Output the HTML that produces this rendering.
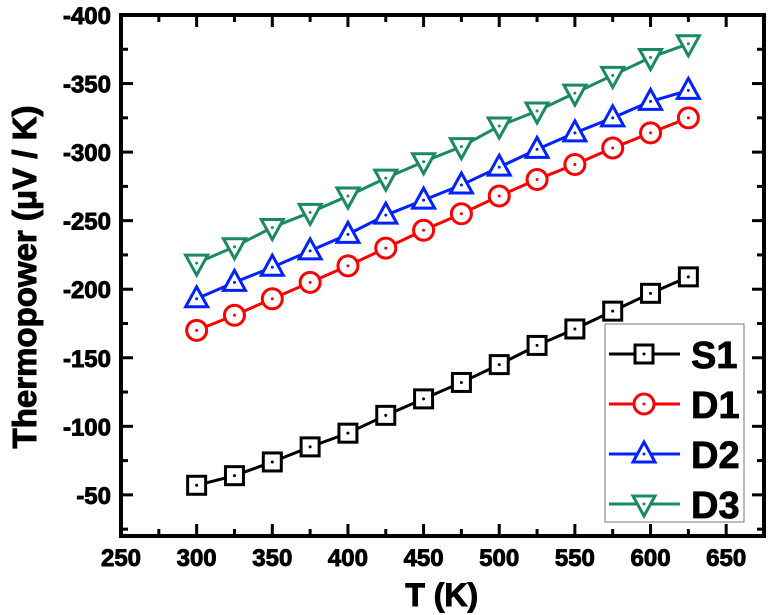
<!DOCTYPE html>
<html><head><meta charset="utf-8"><style>
body{margin:0;background:#fff}
svg{display:block;font-family:"Liberation Sans",sans-serif;font-weight:bold}
</style></head><body>
<svg id="chart" width="768" height="615" viewBox="0 0 768 615" xmlns="http://www.w3.org/2000/svg"></svg>
<script>
const temps=[300,325,350,375,400,425,450,475,500,525,550,575,600,625];
const s1=[-57,-64,-74,-85,-95,-108,-120,-132,-145,-159,-171,-184,-197,-209];
const d1=[-170,-181,-193,-205,-217,-230,-243,-255,-268,-280,-291,-303,-314,-325];
const d2=[-193,-205,-216,-228,-240,-254,-265,-276,-289,-302,-314,-325,-337,-345];
const d3=[-219,-231,-245,-256,-268,-281,-293,-304,-319,-330,-343,-356,-369,-379];
const xTicks=[250,300,350,400,450,500,550,600,650];
const yTicks=[-50,-100,-150,-200,-250,-300,-350,-400];
const seriesNames=["S1","D1","D2","D3"];

const NS="http://www.w3.org/2000/svg";
const svg=document.getElementById('chart');
const L=121,R=764,T=15,B=536;
const xMin=250,xMax=675,yMin=-20,yMax=-400;
const xs=v=>L+(v-xMin)/(xMax-xMin)*(R-L);
const ys=v=>B+(v-yMin)/(yMax-yMin)*(T-B);
function mk(tag,attrs,parent){const e=document.createElementNS(NS,tag);for(const k in attrs)e.setAttribute(k,attrs[k]);(parent||svg).appendChild(e);return e;}

const frame=mk('rect',{x:L,y:T,width:R-L,height:B-T,fill:'none',stroke:'#000','stroke-width':4});



for(let v=250;v<=675;v+=25){
  const major=(v%50===0);const len=major?12:7;
  mk('line',{x1:xs(v),x2:xs(v),y1:B,y2:B-len,stroke:'#000','stroke-width':3});
  mk('line',{x1:xs(v),x2:xs(v),y1:T,y2:T+len,stroke:'#000','stroke-width':3});
}
xTicks.forEach(v=>{
  const t=mk('text',{x:xs(v),y:566,'text-anchor':'middle','font-size':24,stroke:'#000','stroke-width':0.9});
  t.textContent=v;
  
  
});
for(let v=-25;v>=-400;v-=25){
  const major=(v%50===0);const len=major?12:7;
  mk('line',{x1:L,x2:L+len,y1:ys(v),y2:ys(v),stroke:'#000','stroke-width':3});
  mk('line',{x1:R,x2:R-len,y1:ys(v),y2:ys(v),stroke:'#000','stroke-width':3});
}
yTicks.forEach(v=>{
  const t=mk('text',{x:111,y:ys(v)+9,'text-anchor':'end','font-size':24,stroke:'#000','stroke-width':0.9});
  t.textContent=v;
  
  
});
const xt=mk('text',{x:xs(462),y:606,'text-anchor':'middle','font-size':32,stroke:'#000','stroke-width':1});
xt.textContent='T (K)';


const yt=mk('text',{x:0,y:0,'text-anchor':'middle','font-size':33,stroke:'#000','stroke-width':1,transform:'translate(36,277) rotate(-90)'});
yt.textContent='Thermopower (μV / K)';



function marker(type,cx,cy,color,g){
  const sw=3;
  if(type==='sq') mk('rect',{x:cx-9,y:cy-9,width:18,height:18,fill:'#fff',stroke:color,'stroke-width':sw},g);
  else if(type==='ci') mk('circle',{cx:cx,cy:cy,r:10,fill:'#fff',stroke:color,'stroke-width':sw},g);
  else if(type==='up') mk('polygon',{points:`${cx},${cy-12} ${cx-11},${cy+8} ${cx+11},${cy+8}`,fill:'#fff',stroke:color,'stroke-width':sw},g);
  else mk('polygon',{points:`${cx},${cy+12} ${cx-11},${cy-8} ${cx+11},${cy-8}`,fill:'#fff',stroke:color,'stroke-width':sw},g);
  mk('circle',{cx:cx,cy:cy,r:1.5,fill:color},g);
}
const allSeries=[[s1,'#000','sq'],[d1,'#ff0000','ci'],[d2,'#0022ff','up'],[d3,'#1a8a64','dn']];
allSeries.forEach((s,i)=>{
  const g=mk('g',{});
  
  
  const pts=temps.map((t,j)=>xs(t)+','+ys(s[0][j])).join(' ');
  mk('polyline',{points:pts,fill:'none',stroke:s[1],'stroke-width':3},g);
  temps.forEach((t,j)=>marker(s[2],xs(t),ys(s[0][j]),s[1],g));
});

const lg=mk('g',{});


mk('rect',{x:605,y:324,width:139,height:198,fill:'#fff',stroke:'#777','stroke-width':1},lg);
allSeries.forEach((s,i)=>{
  const y=354+i*50;
  const e=mk('g',{},lg);
  
  
  mk('line',{x1:609,x2:680,y1:y,y2:y,stroke:s[1],'stroke-width':3},e);
  marker(s[2],644,y,s[1],e);
  const t=mk('text',{x:691,y:y+14,'font-size':38,stroke:'#000','stroke-width':0.8},e);
  t.textContent=seriesNames[i];
});
</script>
</body></html>
